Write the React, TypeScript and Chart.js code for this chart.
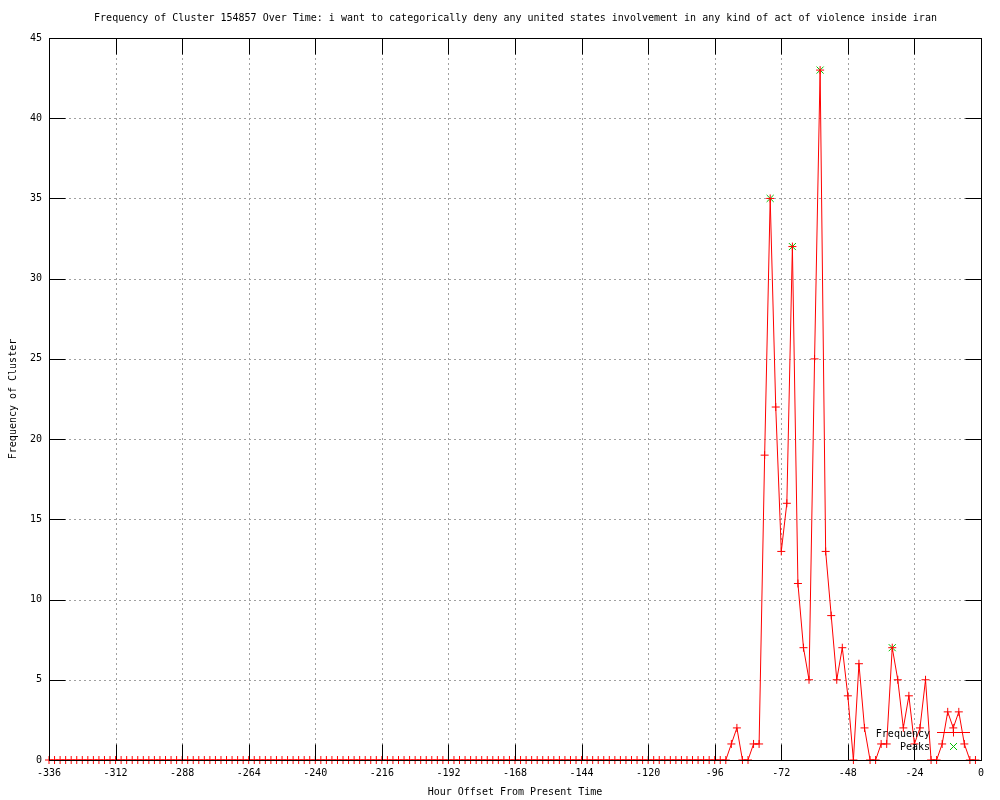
import React, { useEffect, useRef } from "react";
import { Chart, registerables } from "chart.js";

Chart.register(...registerables);

const TITLE =
  "Frequency of Cluster 154857 Over Time: i want to categorically deny any united states involvement in any kind of act of violence inside iran";
const X_LABEL = "Hour Offset From Present Time";
const Y_LABEL = "Frequency of Cluster";
const SERIES_LABEL = "Frequency";
const PEAKS_LABEL = "Peaks";

const HOURS = [
  -336, -334, -332, -330, -328, -326, -324, -322, -320, -318, -316, -314,
  -312, -310, -308, -306, -304, -302, -300, -298, -296, -294, -292, -290,
  -288, -286, -284, -282, -280, -278, -276, -274, -272, -270, -268, -266,
  -264, -262, -260, -258, -256, -254, -252, -250, -248, -246, -244, -242,
  -240, -238, -236, -234, -232, -230, -228, -226, -224, -222, -220, -218,
  -216, -214, -212, -210, -208, -206, -204, -202, -200, -198, -196, -194,
  -192, -190, -188, -186, -184, -182, -180, -178, -176, -174, -172, -170,
  -168, -166, -164, -162, -160, -158, -156, -154, -152, -150, -148, -146,
  -144, -142, -140, -138, -136, -134, -132, -130, -128, -126, -124, -122,
  -120, -118, -116, -114, -112, -110, -108, -106, -104, -102, -100, -98,
  -96, -94, -92, -90, -88, -86, -84, -82, -80, -78, -76, -74,
  -72, -70, -68, -66, -64, -62, -60, -58, -56, -54, -52, -50,
  -48, -46, -44, -42, -40, -38, -36, -34, -32, -30, -28, -26,
  -24, -22, -20, -18, -16, -14, -12, -10, -8, -6, -4, -2,
];

const FREQUENCY = [
  0, 0, 0, 0, 0, 0, 0, 0, 0, 0, 0, 0,
  0, 0, 0, 0, 0, 0, 0, 0, 0, 0, 0, 0,
  0, 0, 0, 0, 0, 0, 0, 0, 0, 0, 0, 0,
  0, 0, 0, 0, 0, 0, 0, 0, 0, 0, 0, 0,
  0, 0, 0, 0, 0, 0, 0, 0, 0, 0, 0, 0,
  0, 0, 0, 0, 0, 0, 0, 0, 0, 0, 0, 0,
  0, 0, 0, 0, 0, 0, 0, 0, 0, 0, 0, 0,
  0, 0, 0, 0, 0, 0, 0, 0, 0, 0, 0, 0,
  0, 0, 0, 0, 0, 0, 0, 0, 0, 0, 0, 0,
  0, 0, 0, 0, 0, 0, 0, 0, 0, 0, 0, 0,
  0, 0, 0, 1, 2, 0, 0, 1, 1, 19, 35, 22,
  13, 16, 32, 11, 7, 5, 25, 43, 13, 9, 5, 7,
  4, 0, 6, 2, 0, 0, 1, 1, 7, 5, 2, 4,
  1, 2, 5, 0, 0, 1, 3, 2, 3, 1, 0, 0,
];

const PEAK_HOURS = [-76, -68, -58, -32];
const PEAK_VALUES = [35, 32, 43, 7];

const X_MIN = -336;
const X_MAX = 0;
const X_STEP = 24;
const Y_MIN = 0;
const Y_MAX = 45;
const Y_STEP = 5;

const FONT_FAMILY = "'DejaVu Sans Mono', 'Liberation Mono', monospace";
const RED = "#ff0000";
const GREEN = "#00c000";

const gnuplotFrame = {
  id: "gnuplotFrame",
  beforeDatasetsDraw(chart: any) {
    const { ctx, chartArea, scales } = chart;
    const { left, right, top, bottom } = chartArea;
    const xs = scales.x;
    const ys = scales.y;
    ctx.save();
    ctx.strokeStyle = "#a0a0a0";
    ctx.lineWidth = 1;
    ctx.setLineDash([2, 3]);
    xs.ticks.forEach((t: any) => {
      const px = Math.round(xs.getPixelForValue(t.value)) + 0.5;
      if (px <= left + 1 || px >= right - 1) return;
      ctx.beginPath();
      ctx.moveTo(px, top);
      ctx.lineTo(px, bottom);
      ctx.stroke();
    });
    ys.ticks.forEach((t: any) => {
      const py = Math.round(ys.getPixelForValue(t.value)) + 0.5;
      if (py <= top + 1 || py >= bottom - 1) return;
      ctx.beginPath();
      ctx.moveTo(left, py);
      ctx.lineTo(right, py);
      ctx.stroke();
    });
    ctx.restore();
  },
  afterDatasetsDraw(chart: any) {
    const { ctx, chartArea, scales } = chart;
    const { left, right, top, bottom } = chartArea;
    const xs = scales.x;
    const ys = scales.y;
    const TL = 16;
    ctx.save();
    ctx.strokeStyle = "#000";
    ctx.lineWidth = 1;
    ctx.setLineDash([]);
    ctx.beginPath();
    xs.ticks.forEach((t: any) => {
      const px = Math.round(xs.getPixelForValue(t.value)) + 0.5;
      ctx.moveTo(px, bottom + 0.5);
      ctx.lineTo(px, bottom + 0.5 - TL);
      ctx.moveTo(px, top + 0.5);
      ctx.lineTo(px, top + 0.5 + TL);
    });
    ys.ticks.forEach((t: any) => {
      const py = Math.round(ys.getPixelForValue(t.value)) + 0.5;
      ctx.moveTo(left + 0.5, py);
      ctx.lineTo(left + 0.5 + TL, py);
      ctx.moveTo(right + 0.5, py);
      ctx.lineTo(right + 0.5 - TL, py);
    });
    ctx.stroke();
    ctx.strokeRect(left + 0.5, top + 0.5, right - left, bottom - top);
    ctx.restore();
  },
  afterDraw(chart: any) {
    const { ctx, chartArea } = chart;
    const ds = chart.data.datasets;
    ctx.save();
    ctx.font = `10px ${FONT_FAMILY}`;
    ctx.fillStyle = "#000";
    // title, centred over the plot area
    ctx.textAlign = "center";
    ctx.textBaseline = "middle";
    ctx.fillText(TITLE, (chartArea.left + chartArea.right) / 2 + 0.5, 18);
    // key
    ctx.textAlign = "right";
    ctx.fillText(ds[0].label, 930, 734);
    ctx.fillText(ds[1].label, 930, 747);
    ctx.lineWidth = 1;
    ctx.strokeStyle = RED;
    ctx.beginPath();
    ctx.moveTo(937, 732.5);
    ctx.lineTo(970, 732.5);
    ctx.moveTo(953.5, 728.5);
    ctx.lineTo(953.5, 736.5);
    ctx.stroke();
    ctx.strokeStyle = GREEN;
    ctx.beginPath();
    ctx.moveTo(950, 743);
    ctx.lineTo(957, 750);
    ctx.moveTo(957, 743);
    ctx.lineTo(950, 750);
    ctx.stroke();
    ctx.restore();
  },
};

export default function App() {
  const canvasRef = useRef<HTMLCanvasElement | null>(null);

  useEffect(() => {
    const canvas = canvasRef.current;
    if (!canvas) return;
    Chart.defaults.font.family = FONT_FAMILY;
    Chart.defaults.font.size = 10;
    Chart.defaults.color = "#000";

    const chart = new Chart(canvas, {
      type: "line",
      data: {
        datasets: [
          {
            label: SERIES_LABEL,
            data: HOURS.map((h, i) => ({ x: h, y: FREQUENCY[i] })),
            borderColor: RED,
            backgroundColor: RED,
            borderWidth: 1,
            tension: 0,
            pointStyle: "cross",
            pointRadius: 4,
            pointBorderColor: RED,
            pointBorderWidth: 1,
            clip: false as any,
          },
          {
            label: PEAKS_LABEL,
            data: PEAK_HOURS.map((h, i) => ({ x: h, y: PEAK_VALUES[i] })),
            showLine: false,
            borderColor: GREEN,
            backgroundColor: GREEN,
            pointStyle: "crossRot",
            pointRadius: 5,
            pointBorderColor: GREEN,
            pointBorderWidth: 1,
            clip: false as any,
          },
        ],
      },
      options: {
        responsive: false,
        animation: false,
        events: [],
        layout: { padding: { left: 0, right: 19, top: 38, bottom: 0 } },
        plugins: {
          legend: { display: false },
          tooltip: { enabled: false },
          title: { display: false },
        },
        scales: {
          x: {
            type: "linear",
            min: X_MIN,
            max: X_MAX,
            grid: { display: false, drawTicks: false },
            border: { display: false },
            ticks: {
              stepSize: X_STEP,
              autoSkip: false,
              maxRotation: 0,
              padding: 7,
              color: "#000",
              font: { family: FONT_FAMILY, size: 10 },
            },
            title: {
              display: true,
              text: X_LABEL,
              color: "#000",
              font: { family: FONT_FAMILY, size: 10 },
              padding: { top: 0, bottom: 2 },
            },
            afterFit(scale: any) {
              scale.height = 40;
            },
          },
          y: {
            type: "linear",
            min: Y_MIN,
            max: Y_MAX,
            grid: { display: false, drawTicks: false },
            border: { display: false },
            ticks: {
              stepSize: Y_STEP,
              padding: 7,
              color: "#000",
              font: { family: FONT_FAMILY, size: 10 },
            },
            title: {
              display: true,
              text: Y_LABEL,
              color: "#000",
              font: { family: FONT_FAMILY, size: 10 },
              padding: { top: 7, bottom: 0 },
            },
            afterFit(scale: any) {
              scale.width = 49;
            },
          },
        },
      },
      plugins: [gnuplotFrame],
    });
    return () => chart.destroy();
  }, []);

  return (
    <div style={{ position: "absolute", left: 0, top: 0, width: 1000, height: 800, background: "#fff" }}>
      <canvas ref={canvasRef} width={1000} height={800} style={{ display: "block" }} />
    </div>
  );
}
